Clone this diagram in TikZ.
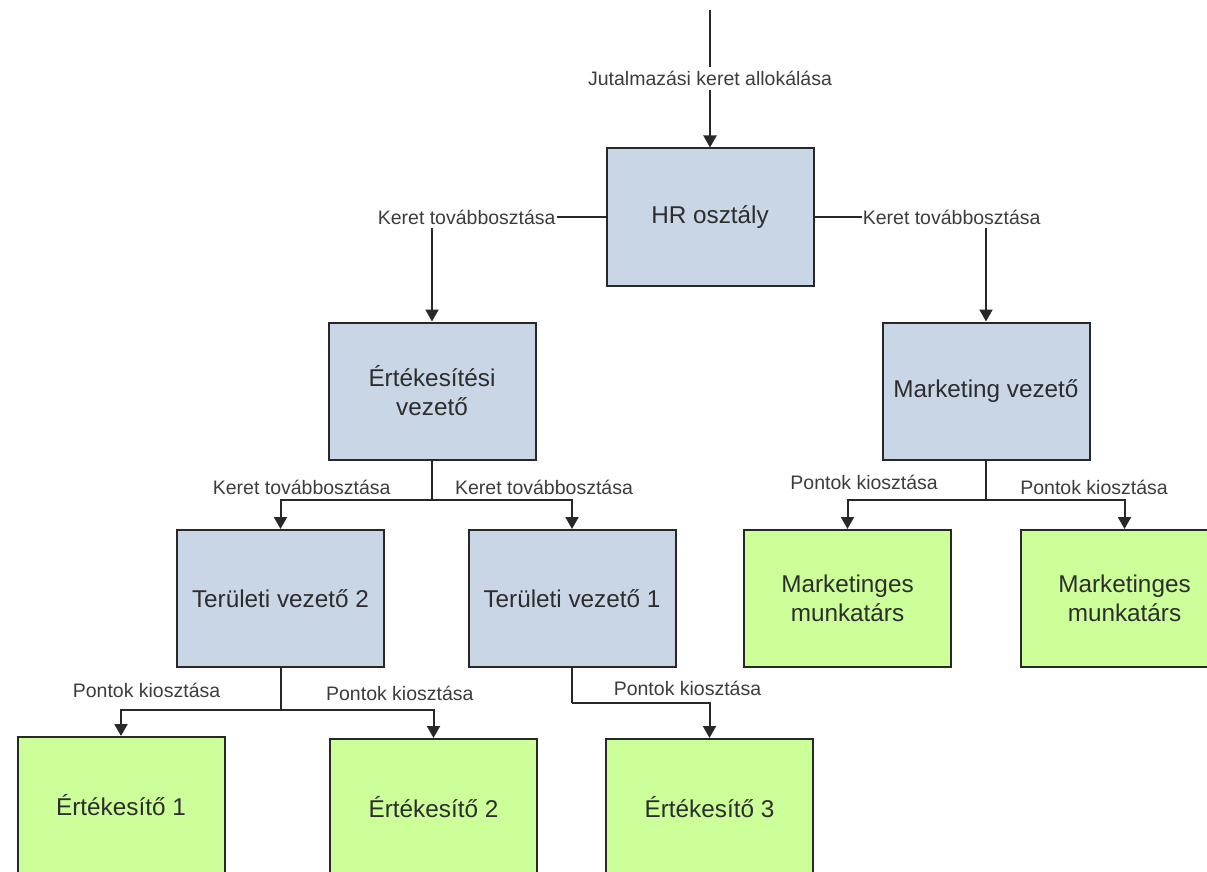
\documentclass[tikz,border=0pt]{standalone}
\usepackage{fontspec}
\setmainfont{Liberation Sans}
\usetikzlibrary{arrows.meta}
\definecolor{boxblue}{RGB}{200,214,230}
\definecolor{boxgreen}{RGB}{204,255,153}
\definecolor{edgec}{RGB}{40,40,40}
\definecolor{txt}{RGB}{45,45,45}
\definecolor{lbltxt}{RGB}{60,60,60}
\begin{document}
\begin{tikzpicture}[x=1pt,y=-1pt,
  box/.style={draw=edgec, line width=2pt, minimum width=207pt, minimum height=137pt, inner sep=0pt, align=center, text=txt, font=\fontsize{24.3}{29}\selectfont},
  bluebox/.style={box, fill=boxblue},
  greenbox/.style={box, fill=boxgreen},
  ln/.style={draw=edgec, line width=2pt},
  arr/.style={ln, -{Triangle[width=13pt,length=12pt]}},
  lbl/.style={fill=white, inner xsep=1pt, inner ysep=4pt, text=lbltxt, font=\fontsize{19.5}{23}\selectfont},
  lbltop/.style={inner sep=0pt, text=lbltxt, font=\fontsize{19.5}{23}\selectfont},
]
\useasboundingbox (0,0) rectangle (1207,872);
\clip (0,0) rectangle (1207,872);
\fill[white] (0,0) rectangle (1207,872);

% boxes
\node[bluebox] (hr) at (710,217) {HR osztály};
\node[bluebox] (ert) at (432,391) {Értékesítési\\vezető};
\node[bluebox] (mkt) at (986,391) {Marketing vezető};
\node[bluebox] (tv2) at (280.5,598.5) {Területi vezető 2};
\node[bluebox] (tv1) at (572,598.5) {Területi vezető 1};
\node[greenbox] (mm1) at (847.5,598.5) {Marketinges\\munkatárs};
\node[greenbox] (mm2) at (1124.5,598.5) {Marketinges\\munkatárs};
\node[greenbox] (e1) at (121,805.5) {Értékesítő 1};
\node[greenbox] (e2) at (433.5,807.5) {Értékesítő 2};
\node[greenbox] (e3) at (709.5,807.5) {Értékesítő 3};

% top input
\coordinate (src) at (710,10);
\draw[arr] (src) -- node[lbl]{Jutalmazási keret allokálása} (hr.north);

% HR to managers
\draw[arr] (hr.west) -| node[lbl,pos=0.40]{Keret továbbosztása} (ert.north);
\draw[arr] (hr.east) -| node[lbl,pos=0.40]{Keret továbbosztása} (mkt.north);

% sales manager to area managers
\coordinate (jE) at (432,500);
\draw[ln] (ert.south) -- (jE);
\draw[arr] (jE) -| node[lbltop,pos=0.43,yshift=13pt]{Keret továbbosztása} (tv2.north);
\draw[arr] (jE) -| node[lbltop,pos=0.40,yshift=13pt]{Keret továbbosztása} (tv1.north);

% marketing manager to staff
\coordinate (jM) at (986,500);
\draw[ln] (mkt.south) -- (jM);
\draw[arr] (jM) -| node[lbltop,pos=0.44,yshift=18pt]{Pontok kiosztása} (mm1.north);
\draw[arr] (jM) -| node[lbltop,pos=0.39,yshift=13pt]{Pontok kiosztása} (mm2.north);

% area manager 2 to sellers
\coordinate (jT2) at (280.5,710);
\draw[ln] (tv2.south) -- (jT2);
\draw[arr] (jT2) -| node[lbltop,pos=0.42,yshift=20pt]{Pontok kiosztása} (e1.north);
\draw[arr] (jT2) -| node[lbltop,pos=0.39,yshift=17pt]{Pontok kiosztása} (e2.north);

% area manager 1 to seller 3
\coordinate (jT1) at (572,703);
\draw[ln] (tv1.south) -- (jT1);
\draw[arr] (jT1) -| node[lbltop,pos=0.42,yshift=15pt]{Pontok kiosztása} (e3.north);
\end{tikzpicture}
\end{document}
